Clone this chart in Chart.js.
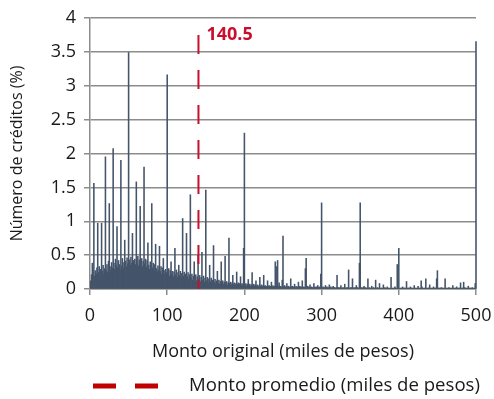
<!DOCTYPE html>
<html>
<head>
<meta charset="utf-8">
<script src="https://cdn.jsdelivr.net/npm/chart.js@4.4.1/dist/chart.umd.min.js"></script>
<style>
  html, body { margin: 0; padding: 0; background: #ffffff; }
  #wrap { width: 494px; height: 399px; }
</style>
</head>
<body>
<div id="wrap"><canvas id="grafica" width="494" height="399"></canvas></div>
<script>
// Monto original del crédito, en miles de pesos (un intervalo por cada mil pesos)
const montos = [];
for (let m = 1; m <= 500; m++) montos.push(m);

// Porcentaje de créditos en cada monto
const porcentajes = [
  0.12, 0.21, 0.38, 0.25, 1.56, 0.19, 0.27, 0.22, 0.31, 0.97,
  0.24, 0.33, 0.18, 0.29, 0.97, 0.26, 0.35, 0.21, 0.30, 1.95,
  0.28, 0.36, 0.24, 0.41, 1.26, 0.33, 0.27, 0.39, 0.31, 2.07,
  0.38, 0.29, 0.44, 0.35, 0.92, 0.31, 0.42, 0.36, 0.28, 1.90,
  0.34, 0.45, 0.30, 0.39, 0.72, 0.41, 0.33, 0.46, 0.37, 3.49,
  0.43, 0.35, 0.47, 0.38, 0.82, 0.42, 0.31, 0.44, 0.36, 1.58,
  0.40, 0.48, 0.34, 0.43, 1.22, 0.39, 0.45, 0.33, 0.41, 1.80,
  0.37, 0.44, 0.32, 0.42, 0.68, 0.35, 0.29, 0.40, 0.33, 1.26,
  0.31, 0.38, 0.27, 0.36, 0.66, 0.30, 0.25, 0.34, 0.28, 0.63,
  0.26, 0.33, 0.22, 0.31, 0.45, 0.27, 0.21, 0.29, 0.24, 3.16,
  0.23, 0.30, 0.19, 0.27, 0.40, 0.22, 0.26, 0.18, 0.25, 0.60,
  0.21, 0.28, 0.17, 0.24, 0.35, 0.20, 0.26, 0.16, 0.23, 1.04,
  0.19, 0.25, 0.15, 0.22, 0.82, 0.18, 0.24, 0.14, 0.21, 1.39,
  0.16, 0.22, 0.13, 0.19, 0.40, 0.15, 0.21, 0.12, 0.18, 0.50,
  0.14, 0.20, 0.11, 0.17, 0.54, 0.13, 0.19, 0.10, 0.16, 1.46,
  0.12, 0.17, 0.09, 0.15, 0.35, 0.11, 0.16, 0.08, 0.13, 0.64,
  0.10, 0.14, 0.08, 0.12, 0.26, 0.09, 0.13, 0.07, 0.11, 0.40,
  0.09, 0.12, 0.07, 0.10, 0.48, 0.08, 0.11, 0.06, 0.09, 0.75,
  0.08, 0.10, 0.06, 0.09, 0.20, 0.07, 0.09, 0.05, 0.08, 0.25,
  0.07, 0.09, 0.05, 0.08, 0.18, 0.06, 0.08, 0.05, 0.60, 2.30,
  0.06, 0.08, 0.04, 0.07, 0.14, 0.05, 0.07, 0.04, 0.06, 0.24,
  0.05, 0.07, 0.04, 0.06, 0.12, 0.04, 0.06, 0.03, 0.05, 0.17,
  0.04, 0.06, 0.03, 0.05, 0.20, 0.04, 0.05, 0.03, 0.04, 0.12,
  0.04, 0.05, 0.03, 0.04, 0.10, 0.03, 0.05, 0.03, 0.04, 0.40,
  0.04, 0.33, 0.42, 0.04, 0.09, 0.03, 0.04, 0.02, 0.13, 0.78,
  0.03, 0.05, 0.02, 0.04, 0.08, 0.03, 0.04, 0.02, 0.03, 0.15,
  0.03, 0.04, 0.02, 0.03, 0.07, 0.02, 0.04, 0.02, 0.03, 0.10,
  0.03, 0.04, 0.02, 0.03, 0.12, 0.02, 0.03, 0.02, 0.30, 0.45,
  0.02, 0.04, 0.02, 0.03, 0.06, 0.02, 0.03, 0.02, 0.02, 0.08,
  0.02, 0.03, 0.02, 0.03, 0.05, 0.02, 0.03, 0.02, 0.22, 1.27,
  0.02, 0.03, 0.01, 0.02, 0.05, 0.02, 0.03, 0.01, 0.02, 0.06,
  0.02, 0.03, 0.01, 0.02, 0.04, 0.02, 0.02, 0.01, 0.02, 0.20,
  0.02, 0.02, 0.01, 0.02, 0.05, 0.01, 0.02, 0.01, 0.02, 0.07,
  0.01, 0.02, 0.01, 0.02, 0.28, 0.01, 0.02, 0.01, 0.02, 0.15,
  0.01, 0.02, 0.01, 0.02, 0.05, 0.01, 0.02, 0.01, 0.38, 1.27,
  0.01, 0.02, 0.01, 0.02, 0.04, 0.01, 0.02, 0.01, 0.01, 0.15,
  0.01, 0.02, 0.01, 0.01, 0.04, 0.01, 0.02, 0.01, 0.01, 0.13,
  0.01, 0.02, 0.01, 0.01, 0.08, 0.01, 0.01, 0.01, 0.01, 0.06,
  0.01, 0.02, 0.01, 0.01, 0.03, 0.01, 0.01, 0.01, 0.01, 0.17,
  0.01, 0.01, 0.01, 0.01, 0.03, 0.01, 0.01, 0.36, 0.01, 0.60,
  0.01, 0.01, 0.01, 0.01, 0.03, 0.01, 0.01, 0.01, 0.01, 0.11,
  0.01, 0.01, 0.01, 0.01, 0.03, 0.01, 0.01, 0.01, 0.01, 0.05,
  0.01, 0.01, 0.01, 0.01, 0.04, 0.01, 0.01, 0.01, 0.12, 0.03,
  0.01, 0.01, 0.01, 0.01, 0.15, 0.01, 0.01, 0.01, 0.01, 0.06,
  0.01, 0.01, 0.01, 0.01, 0.03, 0.01, 0.01, 0.01, 0.15, 0.27,
  0.01, 0.01, 0.01, 0.01, 0.02, 0.01, 0.01, 0.01, 0.01, 0.15,
  0.01, 0.01, 0.01, 0.01, 0.02, 0.01, 0.01, 0.01, 0.01, 0.05,
  0.01, 0.01, 0.01, 0.01, 0.03, 0.01, 0.01, 0.01, 0.01, 0.09,
  0.01, 0.01, 0.01, 0.10, 0.02, 0.01, 0.01, 0.01, 0.01, 0.04,
  0.01, 0.01, 0.01, 0.01, 0.02, 0.01, 0.01, 0.01, 0.08, 3.65
];

// Monto promedio (miles de pesos) y altura hasta donde llega su línea
const promedio = 140.5;
const topeLineaPromedio = 3.85;

// Marcas de los ejes
const marcasX = [0, 100, 200, 300, 400, 500];
const marcasY = [0, 0.5, 1, 1.5, 2, 2.5, 3, 3.5, 4];

const textos = {
  ejeX: 'Monto original (miles de pesos)',
  ejeY: 'Número de créditos (%)',
  leyenda: 'Monto promedio (miles de pesos)'
};

const FUENTE = '"Open Sans", "Liberation Sans", sans-serif';
const ROJO = '#C8102E';
const ROJO_LEYENDA = '#C00000';
const GRIS = '#8c8c8c';
const TINTA = '#1a1a1a';

const barras = montos.map((m, i) => ({ x: m, y: porcentajes[i] }));

// Rótulo del promedio y leyenda inferior
const anotaciones = {
  id: 'anotaciones',
  afterDatasetsDraw(chart) {
    const { ctx, scales } = chart;
    const x = scales.x.getPixelForValue(promedio);
    ctx.save();
    ctx.font = 'bold 18px ' + FUENTE;
    ctx.fillStyle = ROJO;
    ctx.textAlign = 'left';
    ctx.textBaseline = 'middle';
    ctx.fillText(String(promedio), x + 8, chart.chartArea.top + 17);
    ctx.restore();
  },
  afterDraw(chart) {
    const { ctx } = chart;
    const y = 386;
    ctx.save();
    ctx.strokeStyle = ROJO_LEYENDA;
    ctx.lineWidth = 5;
    ctx.beginPath();
    ctx.moveTo(93, y); ctx.lineTo(116, y);
    ctx.moveTo(135, y); ctx.lineTo(158, y);
    ctx.stroke();
    ctx.font = '18.6px ' + FUENTE;
    ctx.fillStyle = TINTA;
    ctx.textAlign = 'left';
    ctx.textBaseline = 'middle';
    ctx.fillText(textos.leyenda, 189, y);
    ctx.restore();
  }
};

new Chart(document.getElementById('grafica'), {
  data: {
    datasets: [
      {
        type: 'line',
        data: [{ x: promedio, y: 0 }, { x: promedio, y: topeLineaPromedio }],
        borderColor: ROJO,
        borderWidth: 2,
        borderDash: [19, 16],
        borderDashOffset: 10,
        pointRadius: 0,
        fill: false,
        order: 0
      },
      {
        type: 'bar',
        data: barras,
        backgroundColor: '#44546A',
        borderWidth: 0,
        inflateAmount: 0.4,
        barPercentage: 1,
        categoryPercentage: 1,
        clip: { left: 0, top: 0, right: 1, bottom: 0 },
        order: 1
      }
    ]
  },
  options: {
    responsive: false,
    animation: false,
    events: [],
    layout: { padding: { top: 18, right: 18, bottom: 34, left: 0 } },
    plugins: { legend: { display: false }, tooltip: { enabled: false } },
    scales: {
      x: {
        type: 'linear',
        offset: false,
        min: 0,
        max: 500,
        afterBuildTicks(scale) { scale.ticks = marcasX.map(v => ({ value: v })); },
        afterFit(scale) {
          scale.height = 76;
          scale.paddingLeft = 0;
          scale.paddingRight = 0;
        },
        ticks: {
          color: TINTA,
          font: { family: FUENTE, size: 18 },
          padding: 10,
          maxRotation: 0,
          callback: v => String(v)
        },
        grid: { drawOnChartArea: false, offset: false, color: GRIS, lineWidth: 1.5, tickLength: 6 },
        border: { color: GRIS, width: 1.5 },
        title: {
          display: true,
          text: textos.ejeX,
          color: TINTA,
          font: { family: FUENTE, size: 18 },
          padding: { top: 0, bottom: 2 }
        }
      },
      y: {
        min: 0,
        max: 4,
        afterBuildTicks(scale) { scale.ticks = marcasY.map(v => ({ value: v })); },
        afterFit(scale) {
          scale.width = 90;
          scale.paddingTop = 0;
          scale.paddingBottom = 0;
        },
        ticks: {
          color: TINTA,
          font: { family: FUENTE, size: 18 },
          padding: 8,
          callback: v => String(v)
        },
        grid: { color: GRIS, lineWidth: 1.5, tickLength: 6 },
        border: { color: GRIS, width: 1.5 },
        title: {
          display: true,
          text: textos.ejeY,
          color: TINTA,
          font: { family: FUENTE, size: 16 },
          padding: { top: 8, bottom: 0 }
        }
      }
    }
  },
  plugins: [anotaciones]
});
</script>
</body>
</html>
